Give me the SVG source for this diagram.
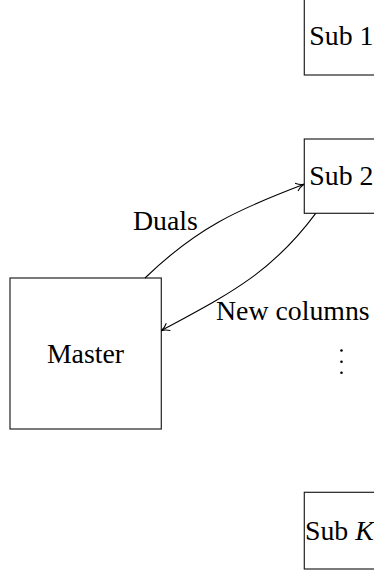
<svg xmlns="http://www.w3.org/2000/svg" width="374" height="574" viewBox="0 0 374 574">
<style>
.box{fill:#fff;stroke:#222;stroke-width:1.2}
.lbl{font-family:"Liberation Serif","Times New Roman",serif;font-size:27.8px;fill:#000}
.edge{fill:none;stroke:#000;stroke-width:1.1}
</style>
<defs>
<marker id="to" markerUnits="userSpaceOnUse" markerWidth="14" markerHeight="14" viewBox="-10 -7 14 14" refX="0" refY="0" orient="auto" overflow="visible">
<path d="M -8,-4.2 C -5,-1.6 -1.8,-0.4 0,0 C -1.8,0.4 -5,1.6 -8,4.2" fill="none" stroke="#000" stroke-width="1.1"/>
</marker>
</defs>
<rect width="374" height="574" fill="#fff"/>
<g id="master">
<rect class="box" x="10" y="278" width="151.3" height="151"/>
<text class="lbl" x="85.5" y="363" text-anchor="middle">Master</text>
</g>
<g id="sub1">
<rect class="box" x="304.3" y="-5" width="90" height="80"/>
<text class="lbl" x="309.3" y="45">Sub 1</text>
</g>
<g id="sub2">
<rect class="box" x="304.3" y="139" width="90" height="74.3"/>
<text class="lbl" x="309.3" y="185">Sub 2</text>
</g>
<g id="dots">
<circle cx="341.5" cy="350.5" r="1.3" fill="#000"/>
<circle cx="341.5" cy="361.7" r="1.3" fill="#000"/>
<circle cx="341.5" cy="372.7" r="1.3" fill="#000"/>
</g>
<g id="subK">
<rect class="box" x="304.3" y="492.3" width="90" height="76.7"/>
<text class="lbl" x="305" y="540">Sub <tspan font-style="italic">K</tspan></text>
</g>
<g id="connectors">
<path class="edge" d="M 145,278 C 196.8,228 236.8,209.8 304,184.3" marker-end="url(#to)"/>
<text class="lbl" x="133" y="230">Duals</text>
<path class="edge" d="M 315.7,213.3 C 270.5,274.1 228.1,294.4 161.3,330.7" marker-end="url(#to)"/>
<text class="lbl" x="216" y="320">New columns</text>
</g>
</svg>
